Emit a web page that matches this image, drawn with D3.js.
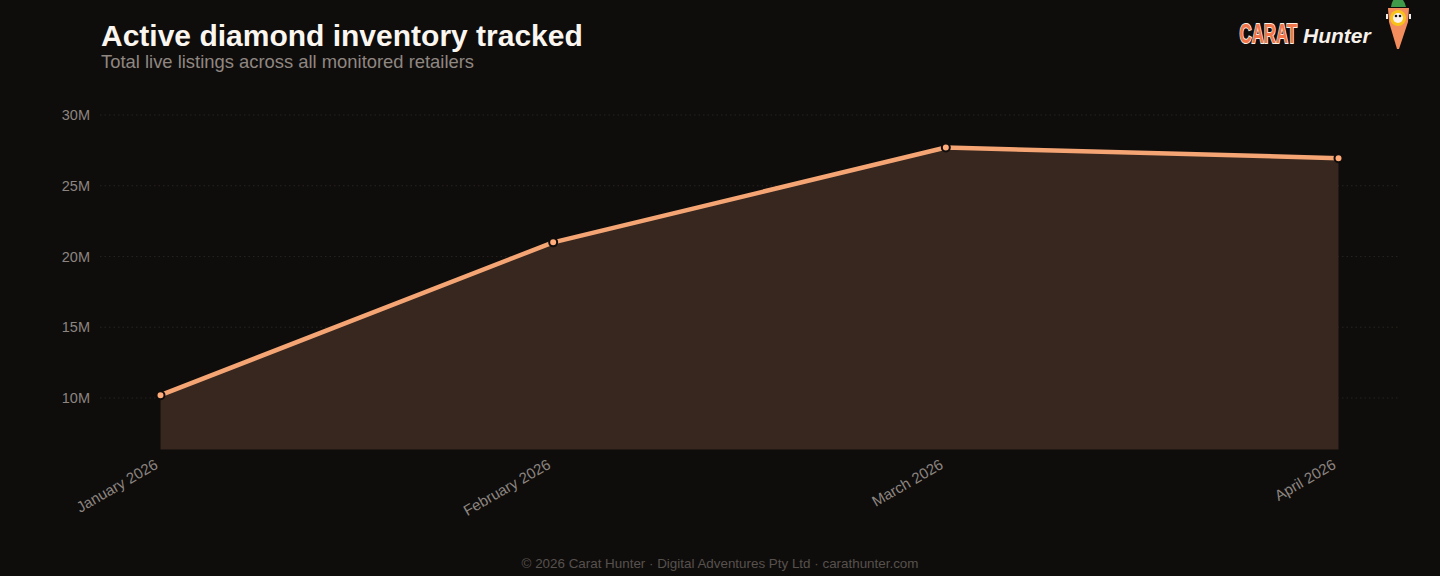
<!DOCTYPE html>
<html>
<head>
<meta charset="utf-8">
<script src="https://cdn.jsdelivr.net/npm/d3@7"></script>
<style>
  html, body { margin: 0; padding: 0; background: #0f0d0c; }
  svg { display: block; font-family: "Liberation Sans", Arial, sans-serif; }
</style>
</head>
<body>
<div id="chart"></div>
<script>
// Monthly snapshot of total live listings
const months = ['January 2026', 'February 2026', 'March 2026', 'April 2026'];
const listings = [10.2e6, 21.0e6, 27.7e6, 26.95e6];
const yTicks = [10e6, 15e6, 20e6, 25e6, 30e6];

const width = 1440;
const height = 576;
const plot = { left: 100, right: 1398, top: 100, bottom: 449.5 };

const svg = d3.select('#chart')
    .append('svg')
    .attr('width', width)
    .attr('height', height);

svg.append('rect')
    .attr('width', width)
    .attr('height', height)
    .attr('fill', '#0f0d0c');

const x = d3.scalePoint()
    .domain(months)
    .range([160.5, 1338.5]);

const y = d3.scaleLinear()
    .domain([6.36e6, 31.06e6])
    .range([plot.bottom, plot.top]);

// Gridlines
svg.append('g')
    .selectAll('line')
    .data(yTicks)
    .enter()
    .append('line')
    .attr('x1', plot.left)
    .attr('x2', plot.right)
    .attr('y1', d => y(d))
    .attr('y2', d => y(d))
    .attr('stroke', '#262220')
    .attr('stroke-width', 1)
    .attr('stroke-dasharray', '1.5,3');

// Y axis labels
const yAxis = svg.append('g')
    .attr('transform', `translate(${plot.left},0)`)
    .call(d3.axisLeft(y).tickValues(yTicks).tickSize(0).tickPadding(10)
        .tickFormat(d => d / 1e6 + 'M'));
yAxis.select('.domain').remove();
yAxis.selectAll('text')
    .attr('fill', '#8c8580')
    .style('font-size', '14.5px')
    .style('font-family', '"Liberation Sans", Arial, sans-serif');

// Area under line
const data = months.map((m, i) => ({ month: m, value: listings[i] }));

svg.append('path')
    .datum(data)
    .attr('fill', '#37271f')
    .attr('d', d3.area()
        .x(d => x(d.month))
        .y0(plot.bottom)
        .y1(d => y(d.value)));

svg.append('path')
    .datum(data)
    .attr('fill', 'none')
    .attr('stroke', '#f5a574')
    .attr('stroke-width', 4.5)
    .attr('stroke-linejoin', 'round')
    .attr('d', d3.line()
        .x(d => x(d.month))
        .y(d => y(d.value)));

svg.append('g')
    .selectAll('circle')
    .data(data)
    .enter()
    .append('circle')
    .attr('cx', d => x(d.month))
    .attr('cy', d => y(d.value))
    .attr('r', 4)
    .attr('fill', '#ffab7a')
    .attr('stroke', '#0f0d0c')
    .attr('stroke-width', 2);

// X axis labels (rotated)
const xAxis = svg.append('g')
    .attr('transform', `translate(0,${plot.bottom})`)
    .call(d3.axisBottom(x).tickSize(0).tickPadding(0));
xAxis.select('.domain').remove();
xAxis.selectAll('text')
    .attr('fill', '#8c8580')
    .style('font-size', '15px')
    .style('font-family', '"Liberation Sans", Arial, sans-serif')
    .attr('text-anchor', 'end')
    .attr('dy', 0)
    .attr('transform', 'translate(-2,18) rotate(-30)');

// Title & subtitle
svg.append('text')
    .attr('x', 101)
    .attr('y', 46)
    .attr('fill', '#fbf6f0')
    .style('font-size', '30px')
    .style('font-weight', 'bold')
    .text('Active diamond inventory tracked');

svg.append('text')
    .attr('x', 101)
    .attr('y', 68)
    .attr('fill', '#8f8781')
    .style('font-size', '18.4px')
    .text('Total live listings across all monitored retailers');

// Logo
const logo = svg.append('g');
logo.append('text')
    .attr('transform', 'translate(1239.5,43) scale(0.6,1)')
    .attr('fill', '#f3764a')
    .attr('stroke', '#fbeee6')
    .attr('stroke-width', 2)
    .attr('paint-order', 'stroke')
    .style('font-weight', 'bold')
    .style('font-size', '28px')
    .text('CARAT');
logo.append('text')
    .attr('x', 1303)
    .attr('y', 43)
    .attr('fill', '#f6f1ea')
    .style('font-weight', 'bold')
    .style('font-style', 'italic')
    .style('font-size', '21px')
    .text('Hunter');

// Carrot mascot
const carrot = logo.append('g');
carrot.append('path')
    .attr('d', 'M1391,7 Q1392,-2 1398,-3 Q1404,-2 1406,7 Z')
    .attr('fill', '#3f9a4a');
carrot.append('path')
    .attr('d', 'M1388,8 L1409,8 L1408,22 L1399,49 L1397,49 L1389,22 Z')
    .attr('fill', '#f38d5d');
carrot.append('circle')
    .attr('cx', 1398).attr('cy', 18).attr('r', 8)
    .attr('fill', '#f7c21a');
carrot.append('circle')
    .attr('cx', 1398).attr('cy', 18).attr('r', 5)
    .attr('fill', '#fbf3ee');
carrot.append('circle').attr('cx', 1396).attr('cy', 16).attr('r', 1.3).attr('fill', '#1b1412');
carrot.append('circle').attr('cx', 1400).attr('cy', 16).attr('r', 1.3).attr('fill', '#1b1412');
carrot.append('rect').attr('x', 1386).attr('y', 14).attr('width', 2).attr('height', 5).attr('fill', '#eeeeee');
carrot.append('rect').attr('x', 1409).attr('y', 14).attr('width', 2).attr('height', 5).attr('fill', '#eeeeee');

// Footer
svg.append('text')
    .attr('x', 720)
    .attr('y', 568)
    .attr('text-anchor', 'middle')
    .attr('fill', '#57514d')
    .style('font-size', '13.4px')
    .text('© 2026 Carat Hunter · Digital Adventures Pty Ltd · carathunter.com');
</script>
</body>
</html>
